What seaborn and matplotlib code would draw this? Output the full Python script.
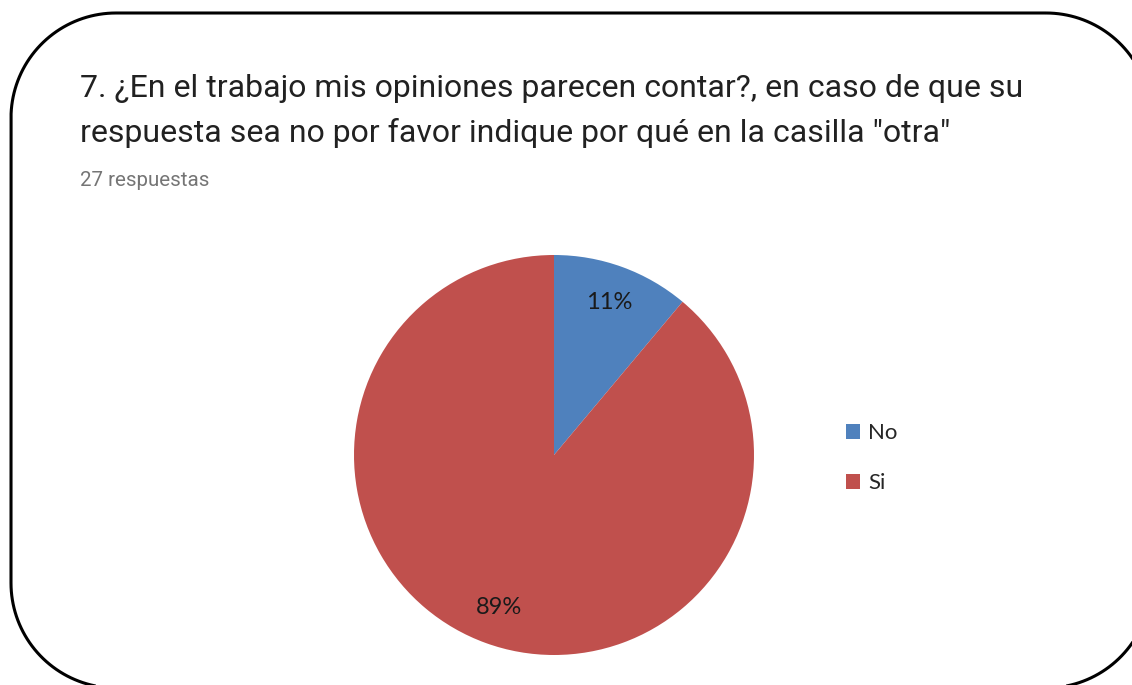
import matplotlib
matplotlib.use("Agg")
import matplotlib.pyplot as plt
import seaborn as sns
import numpy as np
from matplotlib.patches import PathPatch, Patch
from matplotlib.path import Path

categories = ["No", "Si"]
counts = [3, 24]
pct_labels = ["11%", "89%"]
colors = ["#4F81BD", "#C0504D"]
title_lines = ["7. ¿En el trabajo mis opiniones parecen contar?, en caso de que su",
               'respuesta sea no por favor indique por qué en la casilla "otra"']
subtitle = "27 respuestas"

sns.set_theme(style="white")
plt.rcParams['font.family'] = ['Roboto', 'DejaVu Sans']

W, H = 1132, 685
fig = plt.figure(figsize=(W / 100, H / 100), dpi=100)
fig.patch.set_facecolor("white")

# background axes in pixel coordinates (y downwards)
bg = fig.add_axes([0, 0, 1, 1])
bg.set_xlim(0, W)
bg.set_ylim(H, 0)
bg.axis("off")

# rounded frame
R = 105
left, top, right, bottom = 11, 13, 1151, 688
corners = [((right - R, top + R), -90, 0), ((right - R, bottom - R), 0, 90),
           ((left + R, bottom - R), 90, 180), ((left + R, top + R), 180, 270)]
pts = []
for (ccx, ccy), a0, a1 in corners:
    t = np.radians(np.linspace(a0, a1, 40))
    pts.extend(zip(ccx + R * np.cos(t), ccy + R * np.sin(t)))
pts.append(pts[0])
bg.add_patch(PathPatch(Path(pts), facecolor="none", edgecolor="black",
                       linewidth=2.2, clip_on=False))

bg.text(80, 88, title_lines[0], fontsize=23, color="#212121",
        va="center", ha="left")
bg.text(80, 133, title_lines[1], fontsize=23, color="#212121",
        va="center", ha="left")
bg.text(80, 180, subtitle, fontsize=14.8, color="#757575", va="center", ha="left")

# pie axes
cx, cy, r = 554, 455, 200
ax = fig.add_axes([(cx - r) / W, (H - cy - r) / H, 2 * r / W, 2 * r / H])
wedges, _ = ax.pie(counts, colors=colors, startangle=90, counterclock=False,
                   wedgeprops=dict(linewidth=0))
ax.set_xlim(-1, 1)
ax.set_ylim(-1, 1)
ax.set_aspect("auto")
ax.axis("off")

total = sum(counts)
start = 90.0
for val, lab in zip(counts, pct_labels):
    ang = start - 360 * val / total / 2
    start -= 360 * val / total
    ax.text(0.81 * np.cos(np.radians(ang)), 0.81 * np.sin(np.radians(ang)), lab,
            ha="center", va="center", fontsize=17, color="#1a1a1a",
            family=["Lato", "DejaVu Sans"])

handles = [Patch(facecolor=c, edgecolor="none") for c in colors]
fig.legend(handles, categories, loc="center left",
           bbox_to_anchor=(846 / W, 1 - 458 / H), frameon=False,
           borderaxespad=0, borderpad=0,
           prop=dict(family=["Lato", "DejaVu Sans"], size=16),
           handlelength=0.65, handleheight=0.65, handletextpad=0.35,
           labelspacing=1.34)

fig.savefig("out.png", dpi=100, facecolor="white")
